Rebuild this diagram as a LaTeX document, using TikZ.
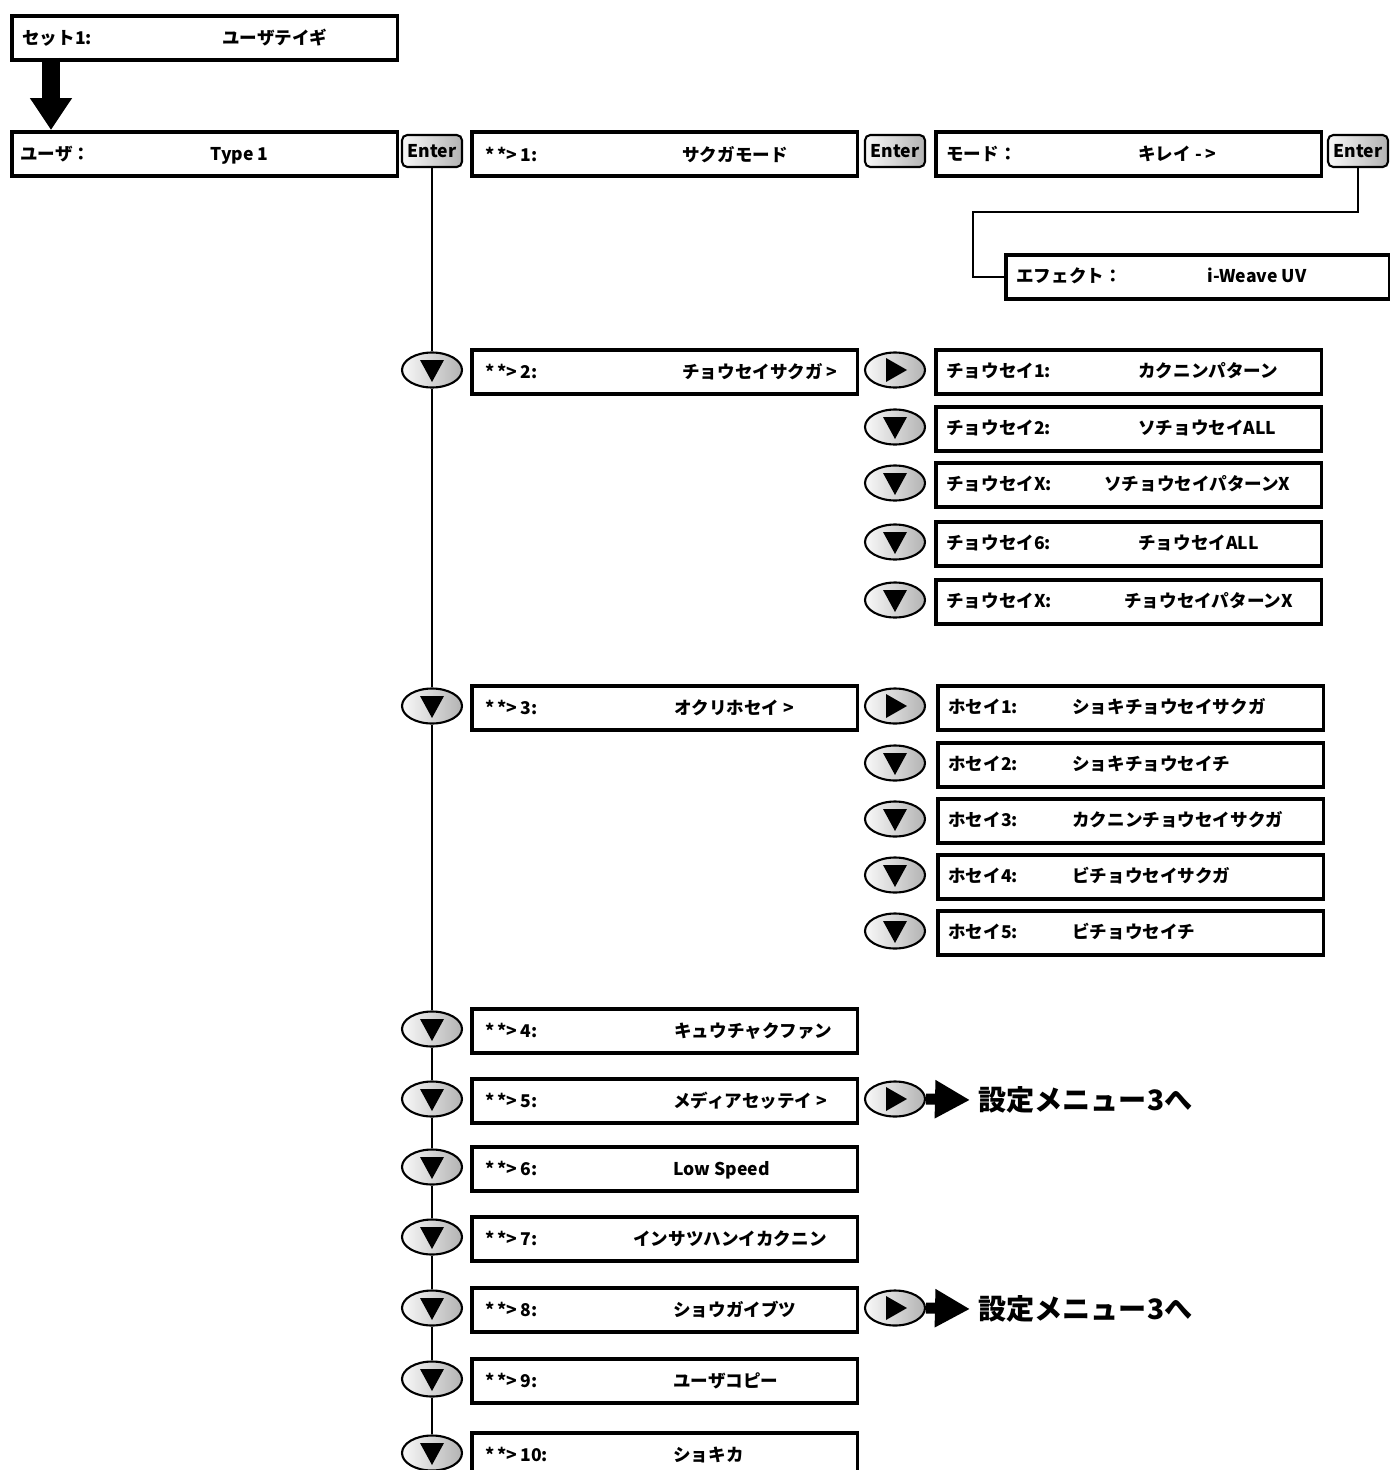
\documentclass[tikz,border=0pt]{standalone}
\usepackage{fontspec}
\setmainfont{Noto Sans CJK JP}
\usetikzlibrary{positioning,arrows.meta,shapes.geometric}

\tikzset{
  lcd/.style={draw, line width=2pt, minimum width=7.72cm, minimum height=0.88cm,
    inner sep=0pt, anchor=north west},
  lbl/.style={font=\fontsize{10}{12}\selectfont\bfseries, inner sep=0pt, anchor=base west},
  golbl/.style={font=\fontsize{16}{19}\selectfont\bfseries, inner sep=0pt,
    inner xsep=0.16cm, anchor=west},
  enterkey/.style={draw, line width=1.2pt, rounded corners=3pt, minimum width=1.2cm,
    minimum height=0.64cm, inner sep=0pt, left color=gray!5, right color=gray!60,
    font=\fontsize{10}{12}\selectfont\bfseries},
  keybtn/.style={ellipse, draw, line width=1.2pt, minimum width=1.2cm,
    minimum height=0.7cm, inner sep=0pt, left color=gray!5, right color=gray!60},
  dnbtn/.style={keybtn, path picture={\fill (path picture bounding box.center)
    ++(-0.24cm,0.2cm) -- ++(0.48cm,0cm) -- ++(-0.24cm,-0.44cm) -- cycle;}},
  rtbtn/.style={keybtn, path picture={\fill (path picture bounding box.center)
    ++(-0.18cm,0.24cm) -- ++(0cm,-0.48cm) -- ++(0.42cm,0.24cm) -- cycle;}},
  vline/.style={line width=1.3pt},
  bigarrow/.style={line width=0.36cm, -{Triangle[length=0.64cm,width=0.8cm]}},
  goarrow/.style={line width=0.22cm, -{Triangle[length=0.7cm,width=0.72cm]}}
}

\begin{document}
\begin{tikzpicture}[x=0.02cm, y=-0.02cm]
\useasboundingbox (0,0) rectangle (1389,1470);

% start of the user menu
\node[lcd] (set1) at (10,14) {};
\node[lbl] at (22,45) {セット1:};
\node[lbl] at (222,45) {ユーザテイギ};
\node[lcd] (user) at (10,130) {};
\node[lbl] at (20,160) {ユーザ：};
\node[lbl] at (210,160) {Type 1};
\coordinate (arrtop) at (51,58);
\draw[bigarrow] (arrtop) -- (arrtop |- user.north);

% first row: Enter chain
\node[enterkey] (ent1) at (432,151) {Enter};
\node[lcd] (m1) at (470,130) {};
\node[lbl] at (485,161) {*\,*>\,1:};
\node[lbl] at (682,161) {サクガモード};
\node[enterkey] (ent2) at (895,151) {Enter};
\node[lcd] (mode) at (934,130) {};
\node[lbl] at (946,160) {モード：};
\node[lbl] at (1138,160) {キレイ - >};
\node[enterkey] (ent3) at (1358,151) {Enter};
\node[lcd, minimum width=7.68cm] (eff) at (1004,253) {};
\node[lbl] at (1016,282) {エフェクト：};
\node[lbl] at (1207,282) {i-Weave UV};
\coordinate (bend) at (973,212);
\draw[vline] (ent3.south) |- (bend) |- (eff.west);

% main column
\foreach \n/\y/\v/\vx in {2/348/{チョウセイサクガ >}/682, 3/684/{オクリホセイ >}/674,
    4/1007/キュウチャクファン/674, 5/1077/{メディアセッテイ >}/673,
    6/1145/{Low Speed}/673, 7/1215/インサツハンイカクニン/633,
    8/1286/ショウガイブツ/673, 9/1357/ユーザコピー/673, 10/1431/ショキカ/673}{
  \node[lcd] (m\n) at (470,\y) {};
  \node[lbl] at (485,\y+30) {*\,*>\,\n:};
  \node[lbl] at (\vx,\y+30) {\v};
  \node[dnbtn] (d\n) at (432,\y+22) {};
}
\draw[vline] (ent1.south) -- (d2.north);
\foreach \a/\b in {2/3,3/4,4/5,5/6,6/7,7/8,8/9,9/10}
  \draw[vline] (d\a.south) -- (d\b.north);

% adjustment sub menu
\foreach \n/\y/\l/\v/\vx in {1/348/チョウセイ1:/カクニンパターン/1138,
    2/405/チョウセイ2:/ソチョウセイALL/1138, 3/461/チョウセイX:/ソチョウセイパターンX/1104,
    4/520/チョウセイ6:/チョウセイALL/1138, 5/578/チョウセイX:/チョウセイパターンX/1124}{
  \node[lcd] (c\n) at (934,\y) {};
  \node[lbl] at (946,\y+29) {\l};
  \node[lbl] at (\vx,\y+29) {\v};
}
\node[rtbtn] (cb1) at (895,370) {};
\foreach \n/\y in {2/427,3/483,4/542,5/600}
  \node[dnbtn] (cb\n) at (895,\y) {};

% feed correction sub menu
\foreach \n/\y/\l/\v in {1/684/ホセイ1:/ショキチョウセイサクガ, 2/741/ホセイ2:/ショキチョウセイチ,
    3/797/ホセイ3:/カクニンチョウセイサクガ, 4/853/ホセイ4:/ビチョウセイサクガ,
    5/909/ホセイ5:/ビチョウセイチ}{
  \node[lcd] (h\n) at (936,\y) {};
  \node[lbl] at (948,\y+29) {\l};
  \node[lbl] at (1072,\y+29) {\v};
}
\node[rtbtn] (hb1) at (895,706) {};
\foreach \n/\y in {2/763,3/819,4/875,5/931}
  \node[dnbtn] (hb\n) at (895,\y) {};

% jumps to menu 3
\foreach \n/\y in {5/1099,8/1308}{
  \node[rtbtn] (r\n) at (895,\y) {};
  \node[golbl] (go\n) at (970,\y+1) {設定メニュー3へ};
  \draw[goarrow] (r\n.east) -- (go\n.west);
}
\end{tikzpicture}
\end{document}
